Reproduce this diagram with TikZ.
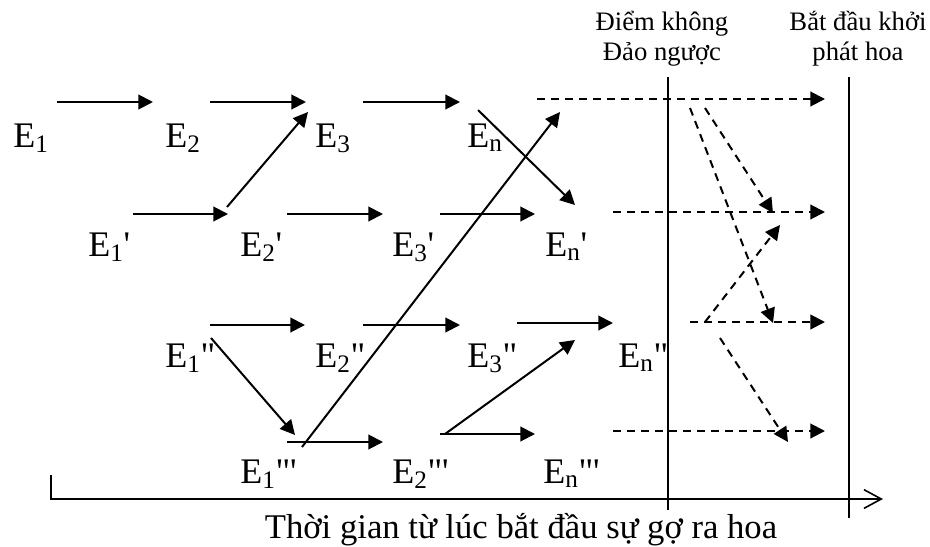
\documentclass[tikz,border=0pt]{standalone}
\usepackage{fontspec}
\newfontfamily\tnr{Liberation Serif}
\usetikzlibrary{arrows.meta}
\tikzset{
  lbl/.style={font=\tnr\fontsize{27}{30}\selectfont, anchor=base west, inner sep=0pt},
  toplbl/.style={font=\tnr\fontsize{20}{22.5}\selectfont, align=center, inner sep=0pt},
  axislbl/.style={font=\tnr\fontsize{26}{30}\selectfont, anchor=base, inner sep=0pt},
  arr/.style={line width=1.5pt, -{Triangle[length=11pt,width=11pt]}},
  darr/.style={arr, dash pattern=on 6pt off 4.5pt},
  vline/.style={line width=1.3pt},
  axis/.style={line width=1.2pt, -{Straight Barb[length=13pt,width=14pt,line width=1.2pt]}},
}
\begin{document}
\begin{tikzpicture}[x=0.75pt,y=-0.75pt]
\useasboundingbox (0,0) rectangle (930,546);
% labels
\node[lbl] (e1) at (13,147) {E\textsubscript{1}};
\node[lbl] (e2) at (165,147) {E\textsubscript{2}};
\node[lbl] (e3) at (315,147) {E\textsubscript{3}};
\node[lbl] (en) at (467,147) {E\textsubscript{n}};
\node[lbl] (e1p) at (88,256) {E\textsubscript{1}'};
\node[lbl] (e2p) at (240,256) {E\textsubscript{2}'};
\node[lbl] (e3p) at (392,256) {E\textsubscript{3}'};
\node[lbl] (enp) at (545,256) {E\textsubscript{n}'};
\node[lbl] (e1pp) at (165,367) {E\textsubscript{1}"};
\node[lbl] (e2pp) at (315,367) {E\textsubscript{2}"};
\node[lbl] (e3pp) at (467,367) {E\textsubscript{3}"};
\node[lbl] (enpp) at (618,367) {E\textsubscript{n}"};
\node[lbl] (e1ppp) at (240,483) {E\textsubscript{1}"'};
\node[lbl] (e2ppp) at (392,483) {E\textsubscript{2}"'};
\node[lbl] (enppp) at (543,483) {E\textsubscript{n}"'};
\node[toplbl] (tl1) at (662,39) {Điểm không\\Đảo ngược};
\node[toplbl] (tl2) at (858,39) {Bắt đầu khởi\\phát hoa};
\node[axislbl] (ax) at (521,538) {Thời gian từ lúc bắt đầu sự gợ ra hoa};
% coordinates
\coordinate (a1s) at (57,102);  \coordinate (a1e) at (153,102);
\coordinate (a2s) at (210,102); \coordinate (a2e) at (306,102);
\coordinate (a3s) at (363,102); \coordinate (a3e) at (460,102);
\coordinate (b1s) at (133,214); \coordinate (b1e) at (228,214);
\coordinate (b2s) at (287,214); \coordinate (b2e) at (383,214);
\coordinate (b3s) at (440,214); \coordinate (b3e) at (535,214);
\coordinate (c1s) at (210,325); \coordinate (c1e) at (305,325);
\coordinate (c2s) at (363,325); \coordinate (c2e) at (460,325);
\coordinate (c3s) at (517,323); \coordinate (c3e) at (613,323);
\coordinate (d1s) at (287,442); \coordinate (d1e) at (383,442);
\coordinate (d2s) at (440,434); \coordinate (d2e) at (535,434);
\coordinate (g1s) at (227,207); \coordinate (g1e) at (308,112);
\coordinate (g2s) at (211,338); \coordinate (g2e) at (295,435);
\coordinate (g3s) at (302,447); \coordinate (g3e) at (560,112);
\coordinate (g4s) at (478,110); \coordinate (g4e) at (575,205);
\coordinate (g5s) at (445,434); \coordinate (g5e) at (575,340);
\coordinate (h1s) at (537,99);  \coordinate (h1e) at (825,99);
\coordinate (h2s) at (613,212); \coordinate (h2e) at (825,212);
\coordinate (h3s) at (690,322); \coordinate (h3e) at (825,322);
\coordinate (h4s) at (613,431); \coordinate (h4e) at (825,431);
\coordinate (k1s) at (690,108); \coordinate (k1e) at (773,323);
\coordinate (k2s) at (705,108); \coordinate (k2e) at (773,213);
\coordinate (k3s) at (705,322); \coordinate (k3e) at (780,225);
\coordinate (k4s) at (720,338); \coordinate (k4e) at (788,442);
\coordinate (v1t) at (668,77);  \coordinate (v1b) at (668,510);
\coordinate (v2t) at (849,77);  \coordinate (v2b) at (849,518);
\coordinate (ax0) at (51,475);  \coordinate (ax1) at (51,499); \coordinate (ax2) at (883,499);
% solid arrows
\foreach \p in {a1,a2,a3,b1,b2,b3,c1,c2,c3,d1,d2,g1,g2,g3,g4,g5}
  \draw[arr] (\p s) -- (\p e);
% dashed arrows
\foreach \p in {h1,h2,h3,h4,k1,k2,k3,k4}
  \draw[darr] (\p s) -- (\p e);
% verticals and axis
\draw[vline] (v1t) -- (v1b);
\draw[vline] (v2t) -- (v2b);
\draw[axis] (ax0) -- (ax1) -- (ax2);
\end{tikzpicture}
\end{document}
